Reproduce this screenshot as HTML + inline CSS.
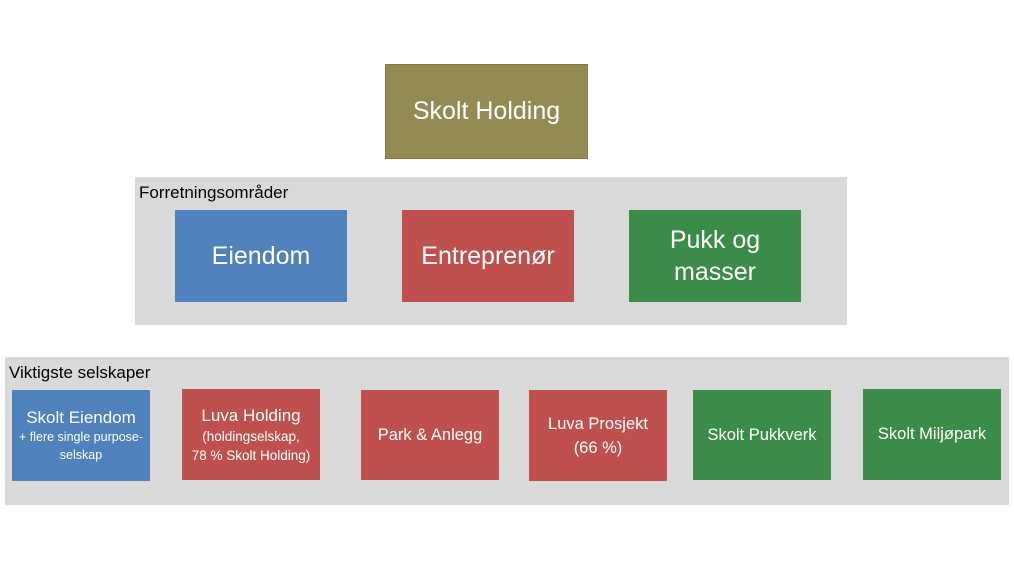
<!DOCTYPE html>
<html><head><meta charset="utf-8"><style>
body{margin:0;width:1014px;height:571px;background:#fff;position:relative;font-family:"Liberation Sans",sans-serif;overflow:hidden}
div{position:absolute;box-sizing:border-box}
.b{display:flex;flex-direction:column;align-items:center;justify-content:center;text-align:center;color:#fff}
.g{background:#d9d9d9}
.blue{background:#4f81bd}.red{background:#c0504d}.grn{background:#3b8c48}
.lbl{color:#000;font-size:17px}
</style></head><body>
<div class="b" style="left:385px;top:64px;width:203px;height:95px;background:#948a54;font-size:25px;border:1px solid #7f7a4c">Skolt Holding</div>
<div class="g" style="left:135px;top:177px;width:712px;height:148px"></div>
<div class="lbl" style="left:139px;top:183px">Forretningsområder</div>
<div class="b blue" style="left:175px;top:210px;width:172px;height:92px;font-size:25px">Eiendom</div>
<div class="b red" style="left:402px;top:210px;width:172px;height:92px;font-size:25px">Entreprenør</div>
<div class="b grn" style="left:629px;top:210px;width:172px;height:92px;font-size:25px;line-height:32px">Pukk og<br>masser</div>
<div class="g" style="left:5px;top:357px;width:1004px;height:148px"></div>
<div class="lbl" style="left:9px;top:363px">Viktigste selskaper</div>
<div class="b blue" style="left:12px;top:390px;width:138px;height:91px;font-size:17px;line-height:20px">Skolt Eiendom<span style="font-size:12.5px;line-height:18px">+ flere single purpose-<br>selskap</span></div>
<div class="b red" style="left:182px;top:389px;width:138px;height:91px;font-size:17px;line-height:22px">Luva Holding<span style="font-size:13.5px;line-height:19px">(holdingselskap,<br>78 % Skolt Holding)</span></div>
<div class="b red" style="left:361px;top:390px;width:138px;height:90px;font-size:16.5px">Park &amp; Anlegg</div>
<div class="b red" style="left:529px;top:390px;width:138px;height:91px;font-size:16.5px;line-height:24px">Luva Prosjekt<br>(66 %)</div>
<div class="b grn" style="left:693px;top:390px;width:138px;height:90px;font-size:16.5px">Skolt Pukkverk</div>
<div class="b grn" style="left:863px;top:389px;width:138px;height:91px;font-size:16.5px">Skolt Miljøpark</div>
</body></html>
